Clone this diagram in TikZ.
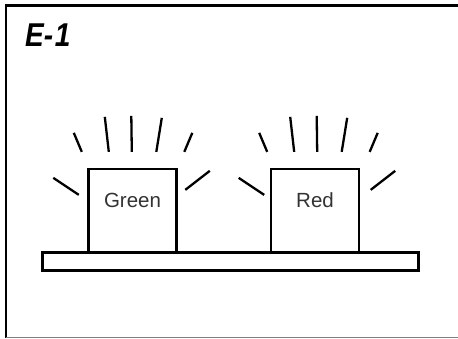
\documentclass[tikz,border=0pt]{standalone}
\usepackage{fontspec}
\setmainfont{Liberation Sans}

\tikzset{
  lampbox/.style={draw, line width=2.3pt, minimum width=88pt, minimum height=83pt, inner sep=0pt},
  lamptext/.style={font=\fontsize{20.5}{24}\selectfont, text=black!80, yshift=10.5pt},
  platform/.style={draw, line width=2.3pt, minimum width=376pt, minimum height=18pt, inner sep=0pt},
  ray/.style={line width=2.3pt},
  frame/.style={line width=2.6pt}
}

\begin{document}
\begin{tikzpicture}[x=1pt, y=-1pt]
  \useasboundingbox (0,0) rectangle (458,338);
  \draw[frame] (458,5.3) -| (6,338);
  \draw[gray, line width=1pt] (6,337.5) -- (458,337.5);
  \node[anchor=base west, font=\fontsize{33}{36}\selectfont\bfseries\itshape, xscale=0.85, inner sep=0pt]
    (title) at (25,46) {E-\kern2pt1};

  \node[platform] (base) at (230.5,261.5) {};
  \node[lampbox, label={[lamptext]center:Green}] (green) at (132.5,210.5) {};
  \node[lampbox, label={[lamptext]center:Red}] (red) at (315,210.5) {};

  \foreach \lamp/\dx in {green/0.3, red/3.2}
    \foreach \ax/\ay/\bx/\by in {-59/-35/-51/-16, -28/-51/-24/-16, -1.5/-52/-1/-16,
                                 29/-50/23.5/-16, 59.5/-35/51.5/-16,
                                 -79.5/10/-54/27, 77/3/52.5/22}
      \draw[ray] ([shift={(\ax+\dx,\ay)}]\lamp.north) -- ([shift={(\bx+\dx,\by)}]\lamp.north);
\end{tikzpicture}
\end{document}
